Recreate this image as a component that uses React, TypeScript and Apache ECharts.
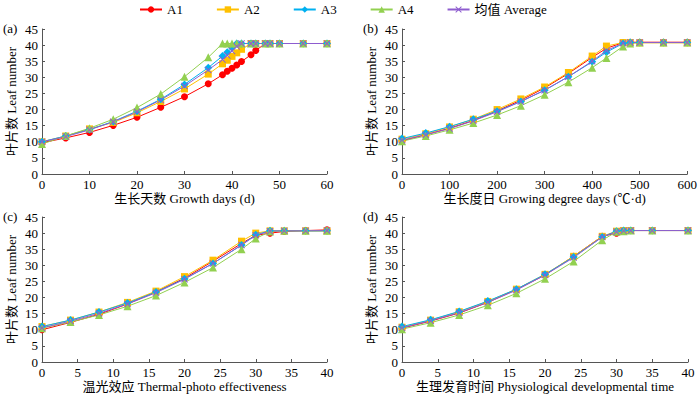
import React, { useEffect, useRef } from "react";
import * as echarts from "echarts";

const seriesNames = ["A1", "A2", "A3", "A4", "均值 Average"];
const colors = ["#ff0000", "#ffc000", "#00b0f0", "#92d050", "#8e5ccf"];
const crossPath = "path://M0,1L1,0L5,4L9,0L10,1L6,5L10,9L9,10L5,6L1,10L0,9L4,5Z";
const symbols = ["circle", "rect", "diamond", "triangle", crossPath];
const symbolSizes = [7, 7, 8, 8, 7];

// (a) Growth days
const daysX = [0, 5, 10, 15, 20, 25, 30, 35, 38, 39, 40, 41, 42, 44, 45, 47, 48, 50, 55, 60];
const daysA1 = [9.7, 11.2, 12.9, 15.1, 17.6, 20.7, 24.0, 28.0, 30.8, 31.9, 32.8, 33.8, 34.9, 37.0, 38.3, 40.5, 40.5, 40.5, 40.5, 40.5];
const daysA2 = [10.0, 11.8, 14.0, 16.0, 19.0, 22.5, 26.4, 31.0, 34.2, 35.3, 36.5, 37.6, 38.7, 40.5, 40.5, 40.5, 40.5, 40.5, 40.5, 40.5];
const daysA3 = [10.0, 11.8, 13.8, 16.3, 19.5, 23.2, 27.8, 33.0, 36.6, 37.8, 39.2, 40.5, 40.5, 40.5, 40.5, 40.5, 40.5, 40.5, 40.5, 40.5];
const daysA4 = [9.3, 11.8, 14.2, 17.0, 20.6, 24.8, 30.2, 36.2, 40.5, 40.5, 40.5, 40.5, 40.5, 40.5, 40.5, 40.5, 40.5, 40.5, 40.5, 40.5];
const daysAvg = [10.0, 11.6, 13.7, 16.2, 19.3, 23.0, 27.3, 32.3, 35.5, 36.8, 38.2, 39.6, 40.5, 40.5, 40.5, 40.5, 40.5, 40.5, 40.5, 40.5];

// (b) Growing degree days
const gddX = [0, 50, 100, 150, 200, 250, 300, 350, 400, 430, 465, 480, 500, 550, 600];
const gddA1 = [10.3, 12.2, 14.2, 16.6, 19.6, 22.9, 26.7, 31.2, 36.2, 39.0, 40.8, 40.9, 40.9, 40.9, 40.9];
const gddA2 = [10.8, 12.5, 14.6, 17.0, 20.0, 23.3, 27.0, 31.5, 36.6, 39.7, 40.8, 40.8, 40.7, 40.7, 40.7];
const gddA3 = [11.0, 12.7, 14.7, 17.0, 19.5, 22.5, 26.0, 30.2, 34.8, 37.8, 40.5, 40.8, 40.8, 40.8, 40.8];
const gddA4 = [10.2, 11.8, 13.7, 15.8, 18.3, 21.2, 24.6, 28.5, 33.0, 36.0, 39.6, 40.5, 40.8, 40.8, 40.8];
const gddAvg = [10.5, 12.2, 14.1, 16.5, 19.3, 22.5, 26.0, 30.2, 35.0, 38.3, 40.6, 40.8, 40.8, 40.8, 40.8];

// (c) Thermal-photo effectiveness
const tpeX = [0, 4, 8, 12, 16, 20, 24, 28, 30, 32, 34, 37, 40];
const tpeA1 = [10.0, 12.3, 14.8, 18.0, 21.8, 26.0, 31.3, 36.8, 39.3, 40.0, 40.5, 40.8, 41.0];
const tpeA2 = [11.0, 13.0, 15.5, 18.5, 22.0, 26.5, 31.6, 37.5, 40.0, 40.7, 40.7, 40.7, 40.7];
const tpeA3 = [11.0, 13.0, 15.5, 18.3, 21.7, 25.8, 30.6, 36.3, 39.5, 40.7, 40.7, 40.7, 40.7];
const tpeA4 = [10.5, 12.4, 14.6, 17.3, 20.6, 24.7, 29.3, 35.0, 38.3, 40.5, 40.7, 40.7, 40.7];
const tpeAvg = [10.6, 12.7, 15.1, 18.0, 21.5, 25.7, 30.6, 36.3, 39.3, 40.6, 40.7, 40.7, 40.8];

// (d) Physiological developmental time
const pdtX = [0, 4, 8, 12, 16, 20, 24, 28, 30, 31, 32, 35, 40];
const pdtA1 = [10.5, 12.7, 15.2, 18.5, 22.5, 27.0, 32.8, 39.0, 40.0, 40.5, 40.8, 40.8, 40.8];
const pdtA2 = [10.8, 13.0, 15.6, 18.8, 22.6, 27.2, 32.8, 39.0, 40.6, 40.8, 40.8, 40.8, 40.8];
const pdtA3 = [11.0, 13.1, 15.7, 18.9, 22.6, 27.2, 32.6, 38.8, 40.6, 40.8, 40.8, 40.8, 40.8];
const pdtA4 = [10.2, 12.2, 14.6, 17.6, 21.3, 25.8, 31.2, 37.8, 40.4, 40.6, 40.8, 40.8, 40.8];
const pdtAvg = [10.6, 12.8, 15.3, 18.5, 22.3, 27.0, 32.4, 38.8, 40.4, 40.7, 40.8, 40.8, 40.8];

const panelLabels = ["(a)", "(b)", "(c)", "(d)"];
const xNames = [
  "生长天数 Growth days (d)",
  "生长度日 Growing degree days (℃·d)",
  "温光效应 Thermal-photo effectiveness",
  "生理发育时间 Physiological developmental time",
];
const yName = "叶片数 Leaf number";
const xMax = [60, 600, 40, 40];
const xInterval = [10, 100, 5, 5];

const FONT = "'Liberation Serif', 'Times New Roman', 'Noto Sans CJK SC', serif";

export default function App() {
  const ref = useRef<HTMLDivElement>(null);
  useEffect(() => {
    if (!ref.current) return;
    const chart = echarts.init(ref.current, undefined, { renderer: "svg" });
    const panels = [
      { x: daysX, ys: [daysA1, daysA2, daysA3, daysA4, daysAvg] },
      { x: gddX, ys: [gddA1, gddA2, gddA3, gddA4, gddAvg] },
      { x: tpeX, ys: [tpeA1, tpeA2, tpeA3, tpeA4, tpeAvg] },
      { x: pdtX, ys: [pdtA1, pdtA2, pdtA3, pdtA4, pdtAvg] },
    ];
    const grids = [
      { left: 42, top: 29, width: 285, height: 145 },
      { left: 402, top: 29, width: 286, height: 145 },
      { left: 42, top: 217, width: 285, height: 145 },
      { left: 402, top: 217, width: 286, height: 145 },
    ];
    const axisLine = { show: true, lineStyle: { color: "#555", width: 1 } };
    const axisTick = { show: true, inside: true, length: 3, lineStyle: { color: "#555" } };
    const axisLabel = { color: "#000", fontSize: 13, fontFamily: FONT, margin: 4 };
    const xAxis = grids.map((_, i) => ({
      type: "value",
      gridIndex: i,
      min: 0,
      max: xMax[i],
      interval: xInterval[i],
      axisLine,
      axisTick,
      axisLabel,
      splitLine: { show: false },
      name: xNames[i],
      nameLocation: "middle",
      nameGap: 17,
      nameTextStyle: { color: "#000", fontSize: 13, fontFamily: FONT },
    }));
    const yAxis = grids.map((_, i) => ({
      type: "value",
      gridIndex: i,
      min: 0,
      max: 45,
      interval: 5,
      axisLine,
      axisTick,
      axisLabel,
      splitLine: { show: false },
      name: yName,
      nameLocation: "middle",
      nameGap: 24,
      nameTextStyle: { color: "#000", fontSize: 13, fontFamily: FONT },
    }));
    const series: any[] = [];
    panels.forEach((p, pi) => {
      p.ys.forEach((ys, si) => {
        series.push({
          type: "line",
          name: seriesNames[si],
          xAxisIndex: pi,
          yAxisIndex: pi,
          data: p.x.map((xv, k) => [xv, ys[k]]),
          symbol: symbols[si],
          symbolSize: symbolSizes[si],
          showAllSymbol: true,
          lineStyle: { color: colors[si], width: 1 },
          itemStyle: { color: colors[si] },
        });
      });
    });
    const graphic = panelLabels.map((t, i) => ({
      type: "text",
      left: i % 2 === 0 ? 3 : 363,
      top: i < 2 ? 22 : 210,
      style: { text: t, fontSize: 13, fontFamily: FONT, fill: "#000" },
    }));
    chart.setOption({
      animation: false,
      backgroundColor: "#fff",
      legend: {
        data: seriesNames,
        left: 134,
        top: -2,
        itemWidth: 22,
        itemHeight: 8,
        itemGap: 33,
        textStyle: { color: "#000", fontSize: 13, fontFamily: FONT },
      },
      grid: grids,
      xAxis,
      yAxis,
      series,
      graphic,
    });
    return () => chart.dispose();
  }, []);
  return (
    <div
      ref={ref}
      style={{ position: "fixed", left: 0, top: 0, width: 700, height: 398, background: "#fff" }}
    />
  );
}
